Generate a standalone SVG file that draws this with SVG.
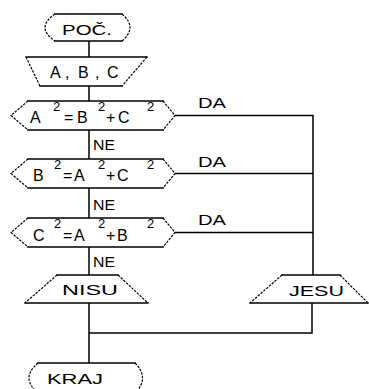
<svg xmlns="http://www.w3.org/2000/svg" width="369" height="389" viewBox="0 0 369 389">
  <style>
    .edge { fill: none; stroke: #000; stroke-width: 1.5; stroke-linecap: square; }
    .side { fill: none; stroke: #000; stroke-width: 1.2; stroke-dasharray: 2.5 1.2; }
    .wire { fill: none; stroke: #000; stroke-width: 1.5; }
    text { font-family: "Liberation Sans", Arial, sans-serif; fill: #000; }
    .lbl { font-size: 15px; }
    .eq { font-size: 16px; }
    .sup { font-size: 13px; }
  </style>
  <rect width="369" height="389" fill="#fff"/>

  <g id="connectors">
    <!-- main spine -->
    <path class="wire" d="M89 41V57 M89 86V101 M89 130V159 M89 188V218 M89 247V275 M89 303V363"/>
    <!-- yes branches -->
    <path class="wire" d="M175 115.5H313V275 M175 173.5H313 M175 232.5H313"/>
    <!-- merge back to spine -->
    <path class="wire" d="M312 303V333H89"/>
    <text class="lbl" x="93" y="150" textLength="22" lengthAdjust="spacingAndGlyphs">NE</text>
    <text class="lbl" x="93" y="210" textLength="22" lengthAdjust="spacingAndGlyphs">NE</text>
    <text class="lbl" x="93" y="267" textLength="22" lengthAdjust="spacingAndGlyphs">NE</text>
    <text class="lbl" x="198" y="108" textLength="28" lengthAdjust="spacingAndGlyphs">DA</text>
    <text class="lbl" x="198" y="167" textLength="28" lengthAdjust="spacingAndGlyphs">DA</text>
    <text class="lbl" x="198" y="225" textLength="28" lengthAdjust="spacingAndGlyphs">DA</text>
  </g>

  <g id="poc">
    <path class="edge" d="M55 14H122 M55 41H122"/>
    <path class="side" d="M55 14Q35 27.5 55 41 M122 14Q138 27.5 122 41"/>
    <text class="lbl" x="62" y="35" textLength="50" lengthAdjust="spacingAndGlyphs">POČ.</text>
  </g>

  <g id="input">
    <path class="edge" d="M26 57H147 M40 86H122"/>
    <path class="side" d="M26 57L40 86 M147 57L122 86"/>
    <text class="eq" x="50 65 78 95 107" y="78">A,B,C</text>
  </g>

  <g id="test1">
    <path class="edge" d="M28 101H163 M28 130H163"/>
    <path class="side" d="M28 101L11 115.5L28 130 M163 101L175 115.5L163 130"/>
    <text class="eq"><tspan x="30" y="123">A</tspan><tspan x="64 77" y="123">=B</tspan><tspan x="106 118" y="123">+C</tspan></text>
    <text class="sup"><tspan x="53" y="111">2</tspan><tspan x="98" y="111">2</tspan><tspan x="147" y="111">2</tspan></text>
  </g>

  <g id="test2">
    <path class="edge" d="M28 159H163 M28 188H163"/>
    <path class="side" d="M28 159L11 173.5L28 188 M163 159L175 173.5L163 188"/>
    <text class="eq"><tspan x="33" y="181">B</tspan><tspan x="63 74" y="181">=A</tspan><tspan x="106 117" y="181">+C</tspan></text>
    <text class="sup"><tspan x="54" y="169">2</tspan><tspan x="98" y="169">2</tspan><tspan x="147" y="169">2</tspan></text>
  </g>

  <g id="test3">
    <path class="edge" d="M28 218H163 M28 247H163"/>
    <path class="side" d="M28 218L11 232.5L28 247 M163 218L175 232.5L163 247"/>
    <text class="eq"><tspan x="33" y="241">C</tspan><tspan x="63 74" y="241">=A</tspan><tspan x="106 117" y="241">+B</tspan></text>
    <text class="sup"><tspan x="54" y="228">2</tspan><tspan x="98" y="228">2</tspan><tspan x="147" y="228">2</tspan></text>
  </g>

  <g id="nisu">
    <path class="edge" d="M57 275H118 M25 303H148"/>
    <path class="side" d="M57 275L25 303 M118 275L148 303"/>
    <text class="lbl" x="62" y="295" textLength="56" lengthAdjust="spacingAndGlyphs">NISU</text>
  </g>

  <g id="jesu">
    <path class="edge" d="M282 275H340 M250 303H368"/>
    <path class="side" d="M282 275L250 303 M340 275L368 303"/>
    <text class="lbl" x="289" y="296" textLength="55" lengthAdjust="spacingAndGlyphs">JESU</text>
  </g>

  <g id="kraj">
    <path class="edge" d="M38 363H135 M38 393H135"/>
    <path class="side" d="M38 363Q20 378 38 393 M135 363Q150 378 135 393"/>
    <text class="lbl" x="47" y="384" textLength="56" lengthAdjust="spacingAndGlyphs">KRAJ</text>
  </g>
</svg>
